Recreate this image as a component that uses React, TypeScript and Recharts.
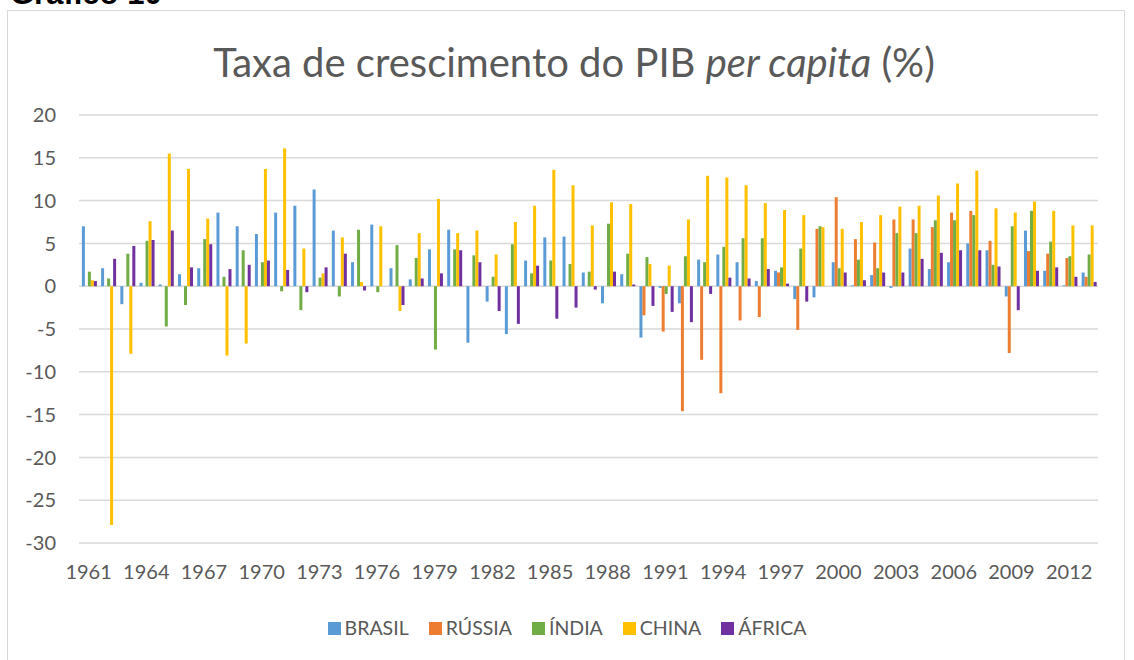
import { BarChart, Bar, XAxis, YAxis, CartesianGrid } from 'recharts';

// anos 1961..2013
const years = [
  1961, 1962, 1963, 1964, 1965, 1966, 1967, 1968, 1969, 1970,
  1971, 1972, 1973, 1974, 1975, 1976, 1977, 1978, 1979, 1980,
  1981, 1982, 1983, 1984, 1985, 1986, 1987, 1988, 1989, 1990,
  1991, 1992, 1993, 1994, 1995, 1996, 1997, 1998, 1999, 2000,
  2001, 2002, 2003, 2004, 2005, 2006, 2007, 2008, 2009, 2010,
  2011, 2012, 2013,
];

const brasil = [
  7.0, 2.1, -2.1, 0.4, 0.2, 1.4, 2.1, 8.6, 7.0, 6.1,
  8.6, 9.4, 11.3, 6.5, 2.8, 7.2, 2.1, 0.8, 4.3, 6.6,
  -6.6, -1.8, -5.6, 3.0, 5.7, 5.8, 1.6, -2.0, 1.4, -6.0,
  -0.2, -2.0, 3.1, 3.7, 2.8, 0.6, 1.8, -1.5, -1.3, 2.8,
  0.1, 1.3, -0.2, 4.4, 2.0, 2.8, 5.0, 4.2, -1.2, 6.5,
  1.8, 0.1, 1.6,
];

const russia: (number | null)[] = [
  null, null, null, null, null, null, null, null, null, null,
  null, null, null, null, null, null, null, null, null, null,
  null, null, null, null, null, null, null, null, null, -3.4,
  -5.3, -14.6, -8.6, -12.5, -4.0, -3.6, 1.6, -5.1, 6.7, 10.4,
  5.5, 5.1, 7.8, 7.8, 6.9, 8.6, 8.8, 5.3, -7.8, 4.1,
  3.8, 3.3, 1.1,
];

const india = [
  1.7, 0.9, 3.8, 5.3, -4.7, -2.2, 5.5, 1.1, 4.2, 2.8,
  -0.6, -2.8, 1.0, -1.2, 6.6, -0.7, 4.8, 3.3, -7.4, 4.3,
  3.6, 1.1, 4.9, 1.5, 3.0, 2.6, 1.7, 7.3, 3.8, 3.4,
  -0.9, 3.5, 2.8, 4.6, 5.6, 5.6, 2.2, 4.4, 7.0, 2.1,
  3.1, 2.1, 6.2, 6.2, 7.7, 7.7, 8.3, 2.5, 7.0, 8.8,
  5.2, 3.5, 3.7,
];

const china = [
  0.7, -27.9, -7.9, 7.6, 15.5, 13.7, 7.9, -8.1, -6.7, 13.7,
  16.1, 4.4, 1.5, 5.7, 0.5, 7.0, -2.9, 6.2, 10.2, 6.2,
  6.5, 3.7, 7.5, 9.4, 13.6, 11.8, 7.1, 9.8, 9.6, 2.6,
  2.4, 7.8, 12.9, 12.7, 11.8, 9.7, 8.9, 8.3, 6.9, 6.7,
  7.5, 8.3, 9.3, 9.4, 10.6, 12.0, 13.5, 9.1, 8.6, 9.9,
  8.8, 7.1, 7.1,
];

const africa: (number | null)[] = [
  0.6, 3.2, 4.7, 5.4, 6.5, 2.2, 4.9, 2.0, 2.5, 3.0,
  1.9, -0.7, 2.2, 3.8, -0.5, null, -2.2, 0.9, 1.5, 4.2,
  2.8, -2.9, -4.4, 2.4, -3.8, -2.5, -0.4, 1.7, 0.2, -2.3,
  -3.0, -4.2, -0.9, 1.0, 0.9, 2.0, 0.3, -1.8, null, 1.6,
  0.7, 1.6, 1.6, 3.2, 3.9, 4.2, 4.2, 2.3, -2.8, 1.8,
  2.2, 1.1, 0.5,
];

const yTicks = [-30, -25, -20, -15, -10, -5, 0, 5, 10, 15, 20];

const series = [
  { key: 'brasil', name: 'BRASIL', color: '#5B9BD5' },
  { key: 'russia', name: 'RÚSSIA', color: '#ED7D31' },
  { key: 'india', name: 'ÍNDIA', color: '#70AD47' },
  { key: 'china', name: 'CHINA', color: '#FFC000' },
  { key: 'africa', name: 'ÁFRICA', color: '#7030A0' },
];

const data = years.map((year, i) => ({
  year,
  brasil: brasil[i],
  russia: russia[i],
  india: india[i],
  china: china[i],
  africa: africa[i],
}));

const FONT = 'Lato, Carlito, Calibri, sans-serif';
const TEXT = '#595959';

export default function App() {
  return (
    <div
      style={{
        position: 'absolute',
        left: 0,
        top: 0,
        width: 1134,
        height: 660,
        overflow: 'hidden',
        background: '#fff',
        fontFamily: FONT,
      }}
    >
      <div
        style={{
          position: 'absolute',
          left: 10,
          top: -22,
          fontFamily: 'Liberation Sans, Arial, sans-serif',
          fontWeight: 'bold',
          fontSize: 31,
          lineHeight: '31px',
          color: '#000',
        }}
      >
        Gráfico 10
      </div>
      <div
        style={{
          position: 'absolute',
          left: 7,
          top: 10,
          width: 1116,
          height: 700,
          border: '1.5px solid #d9d9d9',
        }}
      />
      <div
        style={{
          position: 'absolute',
          left: 0,
          width: 1148,
          top: 38,
          textAlign: 'center',
          fontSize: 40,
          lineHeight: '48px',
          color: TEXT,
        }}
      >
        Taxa de crescimento do PIB <i>per capita</i> (%)
      </div>
      <div style={{ position: 'absolute', left: 0, top: 0 }}>
        <BarChart
          width={1134}
          height={660}
          data={data}
          margin={{ top: 115, right: 36, bottom: 0, left: 0 }}
          barCategoryGap="15%"
          barGap={0}
        >
          <CartesianGrid vertical={false} stroke="#d9d9d9" strokeWidth={1.5} />
          <XAxis
            dataKey="year"
            interval={2}
            height={117}
            axisLine={false}
            tickLine={false}
            tickSize={0}
            tickMargin={22}
            tick={{ fill: TEXT, fontSize: 20, fontFamily: FONT }}
          />
          <YAxis
            domain={[-30, 20]}
            ticks={yTicks}
            width={79}
            axisLine={false}
            tickLine={false}
            tickSize={0}
            tickMargin={23}
            tick={{ fill: TEXT, fontSize: 20, fontFamily: FONT }}
          />
          {series.map((s) => (
            <Bar key={s.key} dataKey={s.key} name={s.name} fill={s.color} isAnimationActive={false} />
          ))}
        </BarChart>
      </div>
      <div
        style={{
          position: 'absolute',
          left: 0,
          width: 1134,
          top: 614,
          display: 'flex',
          justifyContent: 'center',
          gap: 20,
          fontSize: 19.5,
          lineHeight: '28px',
          color: TEXT,
        }}
      >
        {series.map((s) => (
          <div key={s.key} style={{ display: 'flex', alignItems: 'center' }}>
            <span style={{ width: 13, height: 13, background: s.color, marginRight: 4 }} />
            <span>{s.name}</span>
          </div>
        ))}
      </div>
    </div>
  );
}
